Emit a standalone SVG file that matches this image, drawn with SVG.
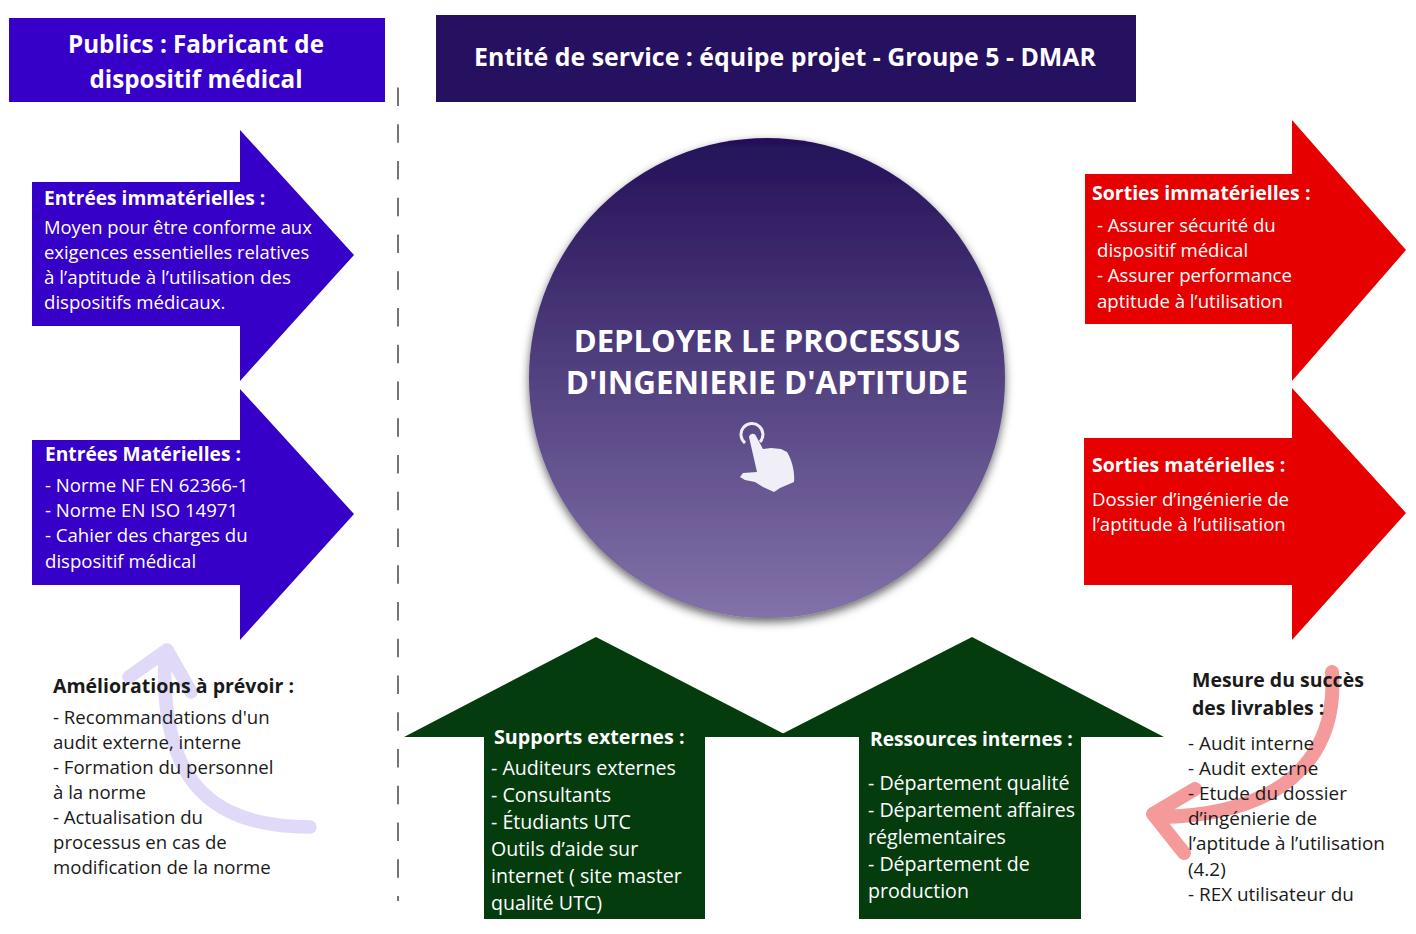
<svg xmlns="http://www.w3.org/2000/svg" width="1416" height="934" viewBox="0 0 1416 934">
<style>
text{font-family:"Open Sans","Noto Sans","Liberation Sans",sans-serif;font-size:18.6px}
.b{font-weight:700;font-size:19.5px}
.n{font-size:19.2px}
.w{fill:#fff}
.k{fill:#1a1a1a}
.blue{fill:#3700c8}
.red{fill:#e60000}
.green{fill:#043c0e}
.g{font-size:19.6px}
.m{font-size:18.9px}
.t{font-size:18.4px}
.h{font-weight:700;font-size:24.2px}
.c{font-weight:700;font-size:31px}
</style>
<defs>
<linearGradient id="g" x1="0" y1="0" x2="0" y2="1"><stop offset="0" stop-color="#241058"/><stop offset="1" stop-color="#8272a8"/></linearGradient>
<filter id="s" x="-10%" y="-10%" width="120%" height="120%"><feDropShadow dx="0" dy="4" stdDeviation="5" flood-color="#000" flood-opacity=".6"/></filter>
</defs>
<g id="dashes"><line x1="398" y1="87.5" x2="398" y2="901" stroke="#666" stroke-width="1.8" stroke-dasharray="18.5 18.25"/></g>
<g id="connectors">
<path d="M310 827C250 827 200 810 178 755C168 730 163 700 165 652M129 677L167 650L191 692" fill="none" stroke="#e0d9f8" stroke-width="13.5" stroke-linecap="round" stroke-linejoin="round"/>
<path d="M1332 672C1338 760 1280 815 1160 817M1195 789L1153 814L1184 853" fill="none" stroke="#f49a9a" stroke-width="14" stroke-linecap="round" stroke-linejoin="round"/>
</g>
<g id="publics"><rect x="9" y="18" width="376" height="84" fill="#3700c8"/><text class="w h" x="196" y="53" text-anchor="middle">Publics : Fabricant de</text><text class="w h" x="196" y="88" text-anchor="middle">dispositif médical</text></g>
<g id="entite"><rect x="436" y="15" width="700" height="87" fill="#261060"/><text class="w h" x="785" y="66" text-anchor="middle" style="font-size:24.9px">Entité de service : équipe projet - Groupe 5 - DMAR</text></g>
<g id="process"><ellipse cx="767" cy="378" rx="238" ry="240" fill="url(#g)" filter="url(#s)"/>
<text class="w c" x="767" y="352" text-anchor="middle">DEPLOYER LE PROCESSUS</text>
<text class="w c" x="767" y="394" text-anchor="middle" style="font-size:31.4px">D'INGENIERIE D'APTITUDE</text>
<g id="hand" fill="#f0eef6"><path d="M745 443A11 11 0 1 1 760 442" fill="none" stroke="#f0eef6" stroke-width="3"/>
<path d="M749 437C750 433 755 433 756 436L763 449L771 448L781 449L787 452C792 460 795 472 794 482L780 488L774 492L763 487L755 482L745 480L740 477L743 473L757 472Z"/></g></g>
<g id="entrees-immat"><path class="blue" d="M32 182H240V130L354 255L240 381V326H32Z"/>
<text class="w b n" x="44" y="205">Entrées immatérielles :</text>
<text class="w t" x="44" y="234">Moyen pour être conforme aux</text><text class="w t" x="44" y="259">exigences essentielles relatives</text><text class="w" x="44" y="284" style="font-size:18.8px">à l’aptitude à l’utilisation des</text><text class="w" x="44" y="309">dispositifs médicaux.</text></g>
<g id="entrees-mat"><path class="blue" d="M32 440H240V389L354 514L240 640V585H32Z"/>
<text class="w b n" x="45" y="461">Entrées Matérielles :</text>
<text class="w" x="45" y="492">- Norme NF EN 62366-1</text><text class="w" x="45" y="517">- Norme EN ISO 14971</text><text class="w" x="45" y="542">- Cahier des charges du</text><text class="w" x="45" y="568">dispositif médical</text></g>
<g id="sorties-immat"><path class="red" d="M1085 174H1292V120L1406 250L1292 381V324H1085Z"/>
<text class="w b" x="1092" y="200">Sorties immatérielles :</text>
<text class="w" x="1097" y="232">- Assurer sécurité du</text><text class="w" x="1097" y="257">dispositif médical</text><text class="w" x="1097" y="282">- Assurer performance</text><text class="w" x="1097" y="308">aptitude à l’utilisation</text></g>
<g id="sorties-mat"><path class="red" d="M1084 438H1292V388L1406 513L1292 640V585H1084Z"/>
<text class="w b" x="1092" y="472">Sorties matérielles :</text>
<text class="w" x="1092" y="506">Dossier d’ingénierie de</text><text class="w" x="1092" y="531">l’aptitude à l’utilisation</text></g>
<g id="supports"><path class="green" d="M484 737H404L596 637L790 737H705V919H484Z"/>
<text class="w b" x="494" y="744" style="font-size:19.7px">Supports externes :</text>
<text class="w g" x="491" y="775">- Auditeurs externes</text><text class="w g" x="491" y="802">- Consultants</text><text class="w g" x="491" y="829">- Étudiants UTC</text><text class="w g" x="491" y="856">Outils d’aide sur</text><text class="w g" x="491" y="883">internet ( site master</text><text class="w g" x="491" y="910">qualité UTC)</text></g>
<g id="ressources"><path class="green" d="M859 737H776L972 637L1164 737H1081V919H859Z"/>
<text class="w b n" x="870" y="746">Ressources internes :</text>
<text class="w g" x="868" y="790">- Département qualité</text><text class="w g" x="868" y="817">- Département affaires</text><text class="w g" x="868" y="844">réglementaires</text><text class="w g" x="868" y="871">- Département de</text><text class="w g" x="868" y="898">production</text></g>
<g id="ameliorations"><text class="k b" x="53" y="693">Améliorations à prévoir :</text>
<text class="k" x="53" y="724">- Recommandations d'un</text><text class="k" x="53" y="749">audit externe, interne</text><text class="k" x="53" y="774">- Formation du personnel</text><text class="k" x="53" y="799">à la norme</text><text class="k" x="53" y="824">- Actualisation du</text><text class="k" x="53" y="849">processus en cas de</text><text class="k" x="53" y="874">modification de la norme</text></g>
<g id="mesure"><text class="k b" x="1192" y="687">Mesure du succès</text><text class="k b" x="1192" y="715">des livrables :</text>
<text class="k m" x="1188" y="750">- Audit interne</text><text class="k m" x="1188" y="775">- Audit externe</text><text class="k m" x="1188" y="800">- Etude du dossier</text><text class="k m" x="1188" y="825">d’ingénierie de</text><text class="k m" x="1188" y="850">l’aptitude à l’utilisation</text><text class="k m" x="1188" y="876">(4.2)</text><text class="k m" x="1188" y="901">- REX utilisateur du</text></g>
</svg>
